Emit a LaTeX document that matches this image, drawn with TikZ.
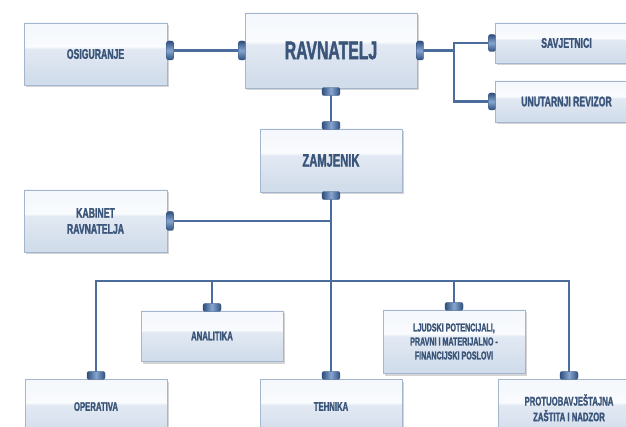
\documentclass[tikz,border=0pt]{standalone}
\usepackage{fontspec}
\newfontfamily\boxfont{Liberation Sans}[FakeStretch=0.62, BoldFeatures={FakeBold=1.6}]
\usetikzlibrary{shadows}
\definecolor{txt}{HTML}{3A5579}
\definecolor{lin}{HTML}{4A6D9E}
\definecolor{bord}{HTML}{A3B6CE}
\definecolor{boxtop}{HTML}{F3F6FB}
\definecolor{boxhi}{HTML}{F9FBFD}
\definecolor{boxmid}{HTML}{E2E9F3}
\definecolor{boxbot}{HTML}{D2DDEB}
\definecolor{capd}{HTML}{2F4F7E}
\definecolor{capl}{HTML}{86A5CF}
\pgfdeclareverticalshading{boxshade}{100bp}{color(0bp)=(boxbot); color(30bp)=(boxbot); color(54bp)=(boxmid); color(56bp)=(boxhi); color(80bp)=(boxtop); color(100bp)=(boxtop)}
\tikzset{
  box/.style={draw=bord, line width=0.8pt, shading=boxshade, inner sep=0pt,
    drop shadow={shadow xshift=2pt, shadow yshift=-2.5pt, opacity=0.3, fill=black!55},
    text=txt, align=center, font=\boxfont\bfseries},
  sz/.style 2 args={minimum width=#1pt, minimum height=#2pt},
  tA/.style={font=\boxfont\bfseries\fontsize{25.5}{28}\selectfont},
  tB/.style={font=\boxfont\bfseries\fontsize{18}{20}\selectfont},
  tC/.style={font=\boxfont\bfseries\fontsize{14}{16}\selectfont},
  tD/.style={font=\boxfont\bfseries\fontsize{12.5}{15}\selectfont},
  tE/.style={font=\boxfont\bfseries\fontsize{11.5}{14}\selectfont},
  conn/.style={draw=lin, line width=2.2pt},
  hcap/.style={rectangle, rounded corners=2pt, minimum width=7pt, minimum height=19pt, inner sep=0pt,
    top color=capd, bottom color=capd, middle color=capl, draw=capd, line width=0.3pt},
  vcap/.style={rectangle, rounded corners=2pt, minimum width=18pt, minimum height=8pt, inner sep=0pt,
    left color=capd, right color=capd, middle color=capl, draw=capd, line width=0.3pt},
}
\begin{document}
\begin{tikzpicture}[x=1pt, y=-1pt]
\useasboundingbox (0,0) rectangle (626,427);
\clip (0,0) rectangle (626,427);
\fill[white] (0,0) rectangle (626,427);
% boxes
\node[box, sz={143}{62}, tC] (osig) at (95.5,54) {OSIGURANJE};
\node[box, sz={172}{75}, tA] (rav) at (331,50.5) {RAVNATELJ};
\node[box, sz={143}{40}, tC] (sav) at (566.5,43) {SAVJETNICI};
\node[box, sz={143}{41}, tC] (unu) at (566.5,101.5) {UNUTARNJI REVIZOR};
\node[box, sz={142}{63}, tB] (zam) at (331,160.5) {ZAMJENIK};
\node[box, sz={143}{62}, tC] (kab) at (95.5,221) {KABINET\\RAVNATELJA};
\node[box, sz={142}{50}, tD] (ana) at (212,336) {ANALITIKA};
\node[box, sz={142}{63}, tE] (lju) at (454,341.5) {LJUDSKI POTENCIJALI,\\PRAVNI I MATERIJALNO -\\FINANCIJSKI POSLOVI};
\node[box, sz={142}{62}, tD] (ope) at (96,410) {\raisebox{7pt}{OPERATIVA}};
\node[box, sz={142}{62}, tD] (teh) at (331,410) {\raisebox{7pt}{TEHNIKA}};
\node[box, sz={142}{62}, tD] (pro) at (569,410) {\raisebox{7pt}{\begin{tabular}{@{}c@{}}PROTUOBAVJEŠTAJNA\\ZAŠTITA I NADZOR\end{tabular}}};
% connectors
\coordinate (rj) at (454,0);
\coordinate (bus) at (0,281);
\draw[conn] (rav.west -| osig.east) -- (rav.west);
\draw[conn] (rav.east) -- (rav.east -| rj) |- (sav.west);
\draw[conn] (rav.east -| rj) |- (unu.west);
\draw[conn] (rav.south) -- (zam.north);
\draw[conn] (zam.south) -- (teh.north);
\draw[conn] (kab.east) -- (kab.east -| zam.south);
\draw[conn] (ope.north) -- (ope.north |- bus) -- (pro.north |- bus) -- (pro.north);
\draw[conn] (ana.north) -- (ana.north |- bus);
\draw[conn] (lju.north) -- (lju.north |- bus);
% caps
\node[hcap, anchor=west, xshift=-1pt] (c1) at (rav.west -| osig.east) {};
\node[hcap, anchor=east, xshift=1pt] (c2) at (rav.west) {};
\node[hcap, anchor=west, xshift=-1pt] (c3) at (rav.east) {};
\node[hcap, anchor=east, xshift=1pt, minimum height=17pt] (c4) at (sav.west) {};
\node[hcap, anchor=east, xshift=1pt, minimum height=17pt] (c5) at (unu.west) {};
\node[hcap, anchor=west, xshift=-1pt] (c6) at (kab.east) {};
\node[vcap, anchor=north, yshift=1pt] (c7) at (rav.south) {};
\node[vcap, anchor=south, yshift=-1pt] (c8) at (zam.north) {};
\node[vcap, anchor=north, yshift=1pt] (c9) at (zam.south) {};
\node[vcap, anchor=south, yshift=-1pt] (c10) at (ana.north) {};
\node[vcap, anchor=south, yshift=-1pt] (c11) at (lju.north) {};
\node[vcap, anchor=south, yshift=-1pt] (c12) at (ope.north) {};
\node[vcap, anchor=south, yshift=-1pt] (c13) at (teh.north) {};
\node[vcap, anchor=south, yshift=-1pt] (c14) at (pro.north) {};
\end{tikzpicture}
\end{document}
